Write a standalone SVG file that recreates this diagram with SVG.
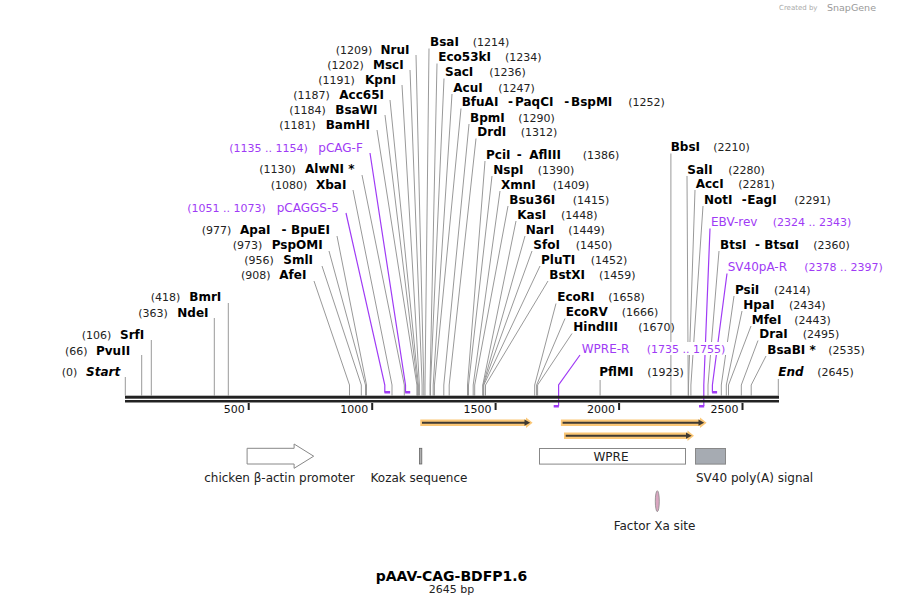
<svg xmlns="http://www.w3.org/2000/svg" width="904" height="606" viewBox="0 0 904 606">
<defs>
<style>
.n{font-family:"DejaVu Sans",Verdana,sans-serif;font-size:12px;font-weight:bold;fill:#000}
.i{font-style:italic}
.p{font-family:"DejaVu Sans",Verdana,sans-serif;font-size:11px;fill:#222}
.pr{font-family:"DejaVu Sans",Verdana,sans-serif;font-size:12px;fill:#9f3bf5}
.prn{font-family:"DejaVu Sans",Verdana,sans-serif;font-size:11px;fill:#9f3bf5}
.f{font-family:"DejaVu Sans",Verdana,sans-serif;font-size:12px;fill:#222}
.t{font-family:"DejaVu Sans",Verdana,sans-serif;font-size:11px;fill:#111}
.ln{stroke:#999;stroke-width:1;fill:none}
.pl{stroke:#9f3bf5;stroke-width:1.2;fill:none}
.pm{fill:#9f3bf5}
.tk{fill:#222}
.ob{fill:#fbc776}
.od{stroke:#3f3a33;stroke-width:2}
.oh{fill:#3f3a33}
</style>
</defs>
<rect width="904" height="606" fill="#fff"/>

<g id="connectors">
<!-- vertical sites -->
<path class="ln" d="M125.3,377V395.5M141.7,355V395.5M151.3,340V395.5M214.3,318V395.5M228.3,303V395.5M600.1,380V395.5M670.9,153.5V395.5M778.3,379V395.5"/>
<!-- left cluster -->
<path class="ln" d="M416,55L423.8,385V395.5M410,70L422.1,385V395.5M402,85L419.4,385V395.5M390,100L418.4,385V395.5M385,115L417.6,385V395.5M377,130L416.9,385V395.5M362,175L404.3,385V395.5M353,190L392,385V395.5M337,236L366.5,385V395.5M329,251L365.5,385V395.5M322,266L361.3,385V395.5M314,281L349.5,385V395.5"/>
<!-- right cluster -->
<path class="ln" d="M429,48.5L425,385V395.5M437,63.5L430,385V395.5M444,78.5L430.5,385V395.5M452,94L433.2,385V395.5M461,108.5L434.4,385V395.5M469,124L443.8,385V395.5M476,138.5L449.2,385V395.5M485,161L467.5,385V395.5M492,176L468.5,385V395.5M500,191L473.2,385V395.5M508,206L474.7,385V395.5M516,221L482.8,385V395.5M525,236L483.1,385V395.5M532,251L483.3,385V395.5M540,266L483.8,385V395.5M548,281L485.5,385V395.5M556,303.5L534.7,385V395.5M565,318.5L536.6,385V395.5M572,333.5L537.6,385V395.5"/>
<path class="ln" d="M687,176L688.2,385V395.5M695,190L688.5,385V395.5M703,206L690.9,385V395.5M719,251L708,385V395.5M734,296L721.3,385V395.5M742,311L726.3,385V395.5M751,326L728.5,385V395.5M758,340.5L741.3,385V395.5M766,356L751.2,385V395.5"/>
<!-- primers -->
<path class="pl" d="M370,153L405.5,385V392.5"/>
<path class="pl" d="M346,213L384.8,385V392.5"/>
<path class="pl" d="M580,355L558.6,385V406"/>
<path class="pl" d="M710,228.5L703.8,385V406"/>
<path class="pl" d="M727,273.5L712.4,385V392.5"/>
</g>

<g id="primer-marks">
<rect class="pm" x="405.2" y="391" width="5" height="2.5"/>
<rect class="pm" x="384.5" y="391" width="5.6" height="2.5"/>
<rect class="pm" x="553.7" y="405" width="5.2" height="2.5"/>
<rect class="pm" x="699" y="405" width="5.2" height="2.5"/>
<rect class="pm" x="712.1" y="391" width="5" height="2.5"/>
</g>

<g id="backbone">
<rect class="tk" x="125" y="395.7" width="654" height="3"/>
<rect class="tk" x="125" y="400" width="654" height="2.5"/>
<rect class="tk" x="247.7" y="403" width="2" height="7"/>
<rect class="tk" x="371.2" y="403" width="2" height="7"/>
<rect class="tk" x="494.6" y="403" width="2" height="7"/>
<rect class="tk" x="618.1" y="403" width="2" height="7"/>
<rect class="tk" x="741.5" y="403" width="2" height="7"/>
<text class="t" x="244.7" y="413" text-anchor="end">500</text>
<text class="t" x="368.2" y="413" text-anchor="end">1000</text>
<text class="t" x="491.6" y="413" text-anchor="end">1500</text>
<text class="t" x="615.1" y="413" text-anchor="end">2000</text>
<text class="t" x="738.5" y="413" text-anchor="end">2500</text>
</g>

<!-- vertical-line sites -->
<g id="site-Start"><text class="p" x="61.7" y="376.2">(0)</text><text class="n i" x="86" y="376.2">Start</text></g>
<g id="site-PvuII"><text class="p" x="65" y="354.5">(66)</text><text class="n" x="96" y="354.5">PvuII</text></g>
<g id="site-SrfI"><text class="p" x="81.7" y="338.5">(106)</text><text class="n" x="120" y="338.5">SrfI</text></g>
<g id="site-NdeI"><text class="p" x="138.3" y="317.2">(363)</text><text class="n" x="177.3" y="317.2">NdeI</text></g>
<g id="site-BmrI"><text class="p" x="150.7" y="301.2">(418)</text><text class="n" x="189.3" y="301.2">BmrI</text></g>

<!-- left cluster -->
<g id="site-NruI"><text class="p" x="335.7" y="53.5">(1209)</text><text class="n" x="380.5" y="53.5">NruI</text></g>
<g id="site-MscI"><text class="p" x="327.3" y="68.5">(1202)</text><text class="n" x="373" y="68.5">MscI</text></g>
<g id="site-KpnI"><text class="p" x="318.3" y="83.5">(1191)</text><text class="n" x="365" y="83.5">KpnI</text></g>
<g id="site-Acc65I"><text class="p" x="293.3" y="98.5">(1187)</text><text class="n" x="339.3" y="98.5">Acc65I</text></g>
<g id="site-BsaWI"><text class="p" x="289.3" y="113.5">(1184)</text><text class="n" x="335.3" y="113.5">BsaWI</text></g>
<g id="site-BamHI"><text class="p" x="279.3" y="128.5">(1181)</text><text class="n" x="325.7" y="128.5">BamHI</text></g>
<g id="primer-pCAG-F"><text class="prn" x="229.3" y="151.8">(1135 .. 1154)</text><text class="pr" x="318.3" y="151.8">pCAG-F</text></g>
<g id="site-AlwNI"><text class="p" x="259.3" y="172.8">(1130)</text><text class="n" x="305" y="172.8">AlwNI *</text></g>
<g id="site-XbaI"><text class="p" x="270.7" y="188.5">(1080)</text><text class="n" x="316" y="188.5">XbaI</text></g>
<g id="primer-pCAGGS-5"><text class="prn" x="187.3" y="211.8">(1051 .. 1073)</text><text class="pr" x="276.7" y="211.8">pCAGGS-5</text></g>
<g id="site-ApaI"><text class="p" x="201.7" y="233.8">(977)</text><text class="n" x="240" y="233.8">ApaI</text><text class="n" x="281.5" y="233.8">-</text><text class="n" x="291" y="233.8">BpuEI</text></g>
<g id="site-PspOMI"><text class="p" x="232.7" y="248.5">(973)</text><text class="n" x="271.7" y="248.5">PspOMI</text></g>
<g id="site-SmlI"><text class="p" x="244.3" y="263.8">(956)</text><text class="n" x="283.3" y="263.8">SmlI</text></g>
<g id="site-AfeI"><text class="p" x="241" y="278.8">(908)</text><text class="n" x="279.3" y="278.8">AfeI</text></g>

<!-- right cluster -->
<g id="site-BsaI"><text class="n" x="430" y="46.2">BsaI</text><text class="p" x="472.7" y="46.2">(1214)</text></g>
<g id="site-Eco53kI"><text class="n" x="438.3" y="61.2">Eco53kI</text><text class="p" x="505" y="61.2">(1234)</text></g>
<g id="site-SacI"><text class="n" x="445" y="76.2">SacI</text><text class="p" x="489.3" y="76.2">(1236)</text></g>
<g id="site-AcuI"><text class="n" x="453.3" y="91.8">AcuI</text><text class="p" x="498.3" y="91.8">(1247)</text></g>
<g id="site-BfuAI"><text class="n" x="461.7" y="106.2">BfuAI</text><text class="n" x="508" y="106.2">-</text><text class="n" x="515" y="106.2">PaqCI</text><text class="n" x="564.3" y="106.2">-</text><text class="n" x="571" y="106.2">BspMI</text><text class="p" x="628.3" y="106.2">(1252)</text></g>
<g id="site-BpmI"><text class="n" x="470" y="121.8">BpmI</text><text class="p" x="518.3" y="121.8">(1290)</text></g>
<g id="site-DrdI"><text class="n" x="477.3" y="136.2">DrdI</text><text class="p" x="520.7" y="136.2">(1312)</text></g>
<g id="site-PciI"><text class="n" x="486" y="158.5">PciI</text><text class="n" x="516.7" y="158.5">-</text><text class="n" x="529.3" y="158.5">AflIII</text><text class="p" x="582.7" y="158.5">(1386)</text></g>
<g id="site-NspI"><text class="n" x="493.3" y="173.5">NspI</text><text class="p" x="537.7" y="173.5">(1390)</text></g>
<g id="site-XmnI"><text class="n" x="501" y="188.5">XmnI</text><text class="p" x="552.7" y="188.5">(1409)</text></g>
<g id="site-Bsu36I"><text class="n" x="509.3" y="203.5">Bsu36I</text><text class="p" x="572.7" y="203.5">(1415)</text></g>
<g id="site-KasI"><text class="n" x="517.3" y="218.5">KasI</text><text class="p" x="561" y="218.5">(1448)</text></g>
<g id="site-NarI"><text class="n" x="525.7" y="233.5">NarI</text><text class="p" x="568.3" y="233.5">(1449)</text></g>
<g id="site-SfoI"><text class="n" x="533.3" y="248.5">SfoI</text><text class="p" x="575.7" y="248.5">(1450)</text></g>
<g id="site-PluTI"><text class="n" x="541" y="263.5">PluTI</text><text class="p" x="590.7" y="263.5">(1452)</text></g>
<g id="site-BstXI"><text class="n" x="549.3" y="278.5">BstXI</text><text class="p" x="599" y="278.5">(1459)</text></g>
<g id="site-EcoRI"><text class="n" x="557.3" y="301.2">EcoRI</text><text class="p" x="608.3" y="301.2">(1658)</text></g>
<g id="site-EcoRV"><text class="n" x="565.7" y="316.2">EcoRV</text><text class="p" x="621.7" y="316.2">(1666)</text></g>
<g id="site-HindIII"><text class="n" x="573.3" y="331.2">HindIII</text><text class="p" x="638.3" y="331.2">(1670)</text></g>
<g id="primer-WPRE-R"><text class="pr" x="581.7" y="352.8">WPRE-R</text><rect x="645" y="342" width="83" height="13" fill="#fff"/><text class="prn" x="646.7" y="352.8">(1735 .. 1755)</text></g>
<g id="site-PflMI"><text class="n" x="599.3" y="376.2">PflMI</text><text class="p" x="647.3" y="376.2">(1923)</text></g>

<g id="site-BbsI"><text class="n" x="670.7" y="151.2">BbsI</text><text class="p" x="713.3" y="151.2">(2210)</text></g>
<g id="site-SalI"><text class="n" x="687.3" y="173.5">SalI</text><text class="p" x="728.3" y="173.5">(2280)</text></g>
<g id="site-AccI"><text class="n" x="695.7" y="187.8">AccI</text><text class="p" x="738.3" y="187.8">(2281)</text></g>
<g id="site-NotI"><text class="n" x="704" y="203.5">NotI</text><text class="n" x="741.7" y="203.5">-</text><text class="n" x="747.3" y="203.5">EagI</text><text class="p" x="794.3" y="203.5">(2291)</text></g>
<g id="primer-EBV-rev"><text class="pr" x="711" y="226.2">EBV-rev</text><text class="prn" x="772.7" y="226.2">(2324 .. 2343)</text></g>
<g id="site-BtsI"><text class="n" x="720" y="248.5">BtsI</text><text class="n" x="755" y="248.5">-</text><text class="n" x="764.3" y="248.5">BtsαI</text><text class="p" x="813.3" y="248.5">(2360)</text></g>
<g id="primer-SV40pA-R"><text class="pr" x="727.7" y="271.2">SV40pA-R</text><text class="prn" x="804.3" y="271.2">(2378 .. 2397)</text></g>
<g id="site-PsiI"><text class="n" x="735" y="293.5">PsiI</text><text class="p" x="774" y="293.5">(2414)</text></g>
<g id="site-HpaI"><text class="n" x="743.3" y="308.5">HpaI</text><text class="p" x="789" y="308.5">(2434)</text></g>
<g id="site-MfeI"><text class="n" x="751.7" y="323.5">MfeI</text><text class="p" x="794.3" y="323.5">(2443)</text></g>
<g id="site-DraI"><text class="n" x="759.3" y="337.8">DraI</text><text class="p" x="802.7" y="337.8">(2495)</text></g>
<g id="site-BsaBI"><text class="n" x="767.3" y="353.5">BsaBI *</text><text class="p" x="828.3" y="353.5">(2535)</text></g>
<g id="site-End"><text class="n i" x="778.3" y="376.2">End</text><text class="p" x="817.3" y="376.2">(2645)</text></g>

<!-- ORF-like arrows -->
<g id="arrow-1">
<polygon class="ob" points="420.3,419.4 526,419.4 526,417.4 532.6,422.7 526,428 526,426 420.3,426"/>
<line class="od" x1="422" y1="422.7" x2="526" y2="422.7"/>
<polygon class="oh" points="524.5,419.6 530.2,422.7 524.5,425.8"/>
</g>
<g id="arrow-2">
<polygon class="ob" points="560.9,419.4 700,419.4 700,417.4 706.6,422.7 700,428 700,426 560.9,426"/>
<line class="od" x1="562.6" y1="422.7" x2="700" y2="422.7"/>
<polygon class="oh" points="698.5,419.6 704.2,422.7 698.5,425.8"/>
</g>
<g id="arrow-3">
<polygon class="ob" points="564,432.4 687.5,432.4 687.5,430.4 694,435.7 687.5,441 687.5,439 564,439"/>
<line class="od" x1="565.7" y1="435.7" x2="687.5" y2="435.7"/>
<polygon class="oh" points="686,432.6 691.7,435.7 686,438.8"/>
</g>

<!-- features -->
<g id="feature-promoter">
<polygon points="247.1,448.3 294.1,448.3 294.1,444 313.7,456.2 294.1,468.3 294.1,464 247.1,464" fill="#fff" stroke="#888" stroke-width="1"/>
<text class="f" x="279.5" y="482" text-anchor="middle">chicken β-actin promoter</text>
</g>
<g id="feature-kozak">
<rect x="419.4" y="448.3" width="2.4" height="15.7" fill="#b0b0b0" stroke="#666" stroke-width="0.8"/>
<text class="f" x="419" y="482" text-anchor="middle">Kozak sequence</text>
</g>
<g id="feature-WPRE">
<rect x="539.5" y="448.5" width="146" height="15.6" fill="#fff" stroke="#888" stroke-width="1"/>
<text class="f" x="611" y="460.5" text-anchor="middle">WPRE</text>
</g>
<g id="feature-SV40">
<rect x="695.5" y="448.5" width="30" height="15.6" fill="#a6abb2" stroke="#888" stroke-width="1"/>
<text class="f" x="696" y="482">SV40 poly(A) signal</text>
</g>
<g id="feature-FactorXa">
<ellipse cx="657.3" cy="501.2" rx="2" ry="10.5" fill="#d9a6c0" stroke="#888" stroke-width="0.8"/>
<text class="f" x="654.5" y="529.5" text-anchor="middle">Factor Xa site</text>
</g>

<g id="title">
<text x="451.5" y="581" text-anchor="middle" font-family="DejaVu Sans,Verdana,sans-serif" font-size="14" font-weight="bold" fill="#000">pAAV-CAG-BDFP1.6</text>
<text x="451.5" y="592.5" text-anchor="middle" font-family="DejaVu Sans,Verdana,sans-serif" font-size="11" fill="#222">2645 bp</text>
</g>

<g id="credit">
<text x="779" y="10" font-family="DejaVu Sans,sans-serif" font-size="7" fill="#aaa">Created by</text>
<text x="827" y="10.5" font-family="DejaVu Sans,sans-serif" font-size="9.5" fill="#999">SnapGene</text>
</g>
</svg>
